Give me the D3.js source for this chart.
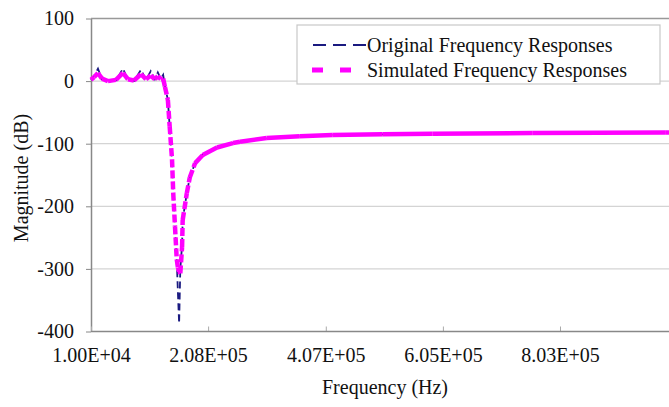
<!DOCTYPE html>
<html>
<head>
<meta charset="utf-8">
<script src="https://cdn.jsdelivr.net/npm/d3@7"></script>
<style>
  body { margin: 0; background: #fff; }
  svg { display: block; font-family: "Liberation Serif", "Times New Roman", serif; }
</style>
</head>
<body>
<svg id="chart" width="669" height="407"></svg>
<script>
// frequencies (Hz) shared by both series
var freqs = [1.00e4, 1.51e4, 2.18e4, 2.86e4, 3.87e4, 5.22e4, 6.40e4, 7.25e4, 8.26e4, 9.44e4,
             1.03e5, 1.11e5, 1.18e5, 1.23e5, 1.28e5, 1.32e5, 1.35e5, 1.40e5, 1.43e5, 1.47e5,
             1.49e5, 1.52e5, 1.55e5, 1.57e5, 1.59e5, 1.61e5, 1.64e5, 1.65e5, 1.72e5, 1.77e5,
             1.86e5, 1.99e5, 2.23e5, 2.50e5, 2.62e5, 3.07e5, 3.63e5, 4.18e5, 5.03e5, 5.87e5,
             7.56e5, 9.82e5, 1.04e6];
// magnitudes (dB)
var original = [2, 8, 20, 3, -1, 1, 20, 2, 0, 18,
                2, 16, 3, 14, 4, 10, -8, -30, -73, -126,
                -179, -233, -286, -339, -387, -300, -262, -222, -179, -154,
                -131, -117, -106, -99, -97, -91, -88, -86, -85, -84,
                -83, -82, -82];
var simulated = [2, 6, 13, 4, 0, 2, 13, 3, 1, 11,
                 3, 9, 3, 8, 3, 4, -9, -30, -72, -125,
                 -178, -232, -285, -298, -305, -307, -265, -222, -179, -154,
                 -131, -118, -106, -99, -97, -91, -88, -86, -85, -84,
                 -83, -82, -82];
var seriesNames = ['Original Frequency Responses', 'Simulated Frequency Responses'];
var xTicks = [1.00e4, 2.08e5, 4.07e5, 6.05e5, 8.03e5];
var xTickLabels = ['1.00E+04', '2.08E+05', '4.07E+05', '6.05E+05', '8.03E+05'];
var yTicks = [100, 0, -100, -200, -300, -400];

var margin = { top: 18.5, left: 91 };
var plotH = 313;

document.addEventListener('DOMContentLoaded', function() {
  drawChart();
});

function drawChart() {
  var svg = d3.select('#chart');

  var xScale = d3.scaleLinear()
                 .domain([1.00e4, 8.03e5])
                 .range([margin.left, margin.left + 469]);
  var yScale = d3.scaleLinear()
                 .domain([-400, 100])
                 .range([margin.top + plotH, margin.top]);
  var xRight = xScale(1.001e6);

  // gridlines
  svg.append('g')
     .selectAll('line')
     .data(yTicks.filter(d => d > -400 && d < 100))
     .enter().append('line')
     .attr('x1', margin.left).attr('x2', xRight)
     .attr('y1', d => yScale(d)).attr('y2', d => yScale(d))
     .style('stroke', '#d4d4d4').style('stroke-width', 1.3);

  // top border
  svg.append('line')
     .attr('x1', margin.left).attr('x2', xRight)
     .attr('y1', yScale(100)).attr('y2', yScale(100))
     .style('stroke', '#999').style('stroke-width', 1.5);

  // y axis (plain hyphen for negatives, like the original)
  var yAxis = svg.append('g')
     .attr('transform', `translate(${margin.left},0)`)
     .call(d3.axisLeft(yScale).tickValues(yTicks).tickFormat(d => String(d))
             .tickSize(5).tickSizeOuter(0).tickPadding(12));
  yAxis.select('.domain').style('stroke', '#888').style('stroke-width', 1.5);
  yAxis.selectAll('.tick line').style('stroke', '#888');
  yAxis.selectAll('text').style('font-size', '20px').style('fill', '#111')
       .style('font-family', '"Liberation Serif", serif');

  // x axis
  var xAxis = svg.append('g')
     .attr('transform', `translate(0,${yScale(-400)})`)
     .call(d3.axisBottom(xScale).tickValues(xTicks)
             .tickFormat((d, i) => xTickLabels[i])
             .tickSize(0).tickPadding(16));
  xAxis.select('.domain').remove();
  xAxis.append('line')
       .attr('x1', margin.left).attr('x2', xRight)
       .style('stroke', '#888').style('stroke-width', 1.5);
  xAxis.selectAll('.tick').append('line')
       .attr('y1', 0).attr('y2', -5)
       .style('stroke', '#aaa');
  xAxis.selectAll('text').style('font-size', '20px').style('fill', '#111')
       .style('font-family', '"Liberation Serif", serif');

  // axis titles
  svg.append('text')
     .attr('x', 385).attr('y', 394)
     .attr('text-anchor', 'middle')
     .style('font-size', '20px').style('fill', '#111')
     .text('Frequency (Hz)');
  svg.append('text')
     .attr('transform', 'translate(28,178) rotate(-90)')
     .attr('text-anchor', 'middle')
     .style('font-size', '20px').style('fill', '#111')
     .text('Magnitude (dB)');

  var origData = freqs.map((f, i) => ({ f: f, v: original[i] }));
  var simData = freqs.map((f, i) => ({ f: f, v: simulated[i] }));

  var line = d3.line()
               .x(d => xScale(d.f))
               .y(d => yScale(d.v));

  // original response: thin navy dashes
  svg.append('path')
     .datum(origData)
     .attr('d', line)
     .style('fill', 'none')
     .style('stroke', '#1a1a80')
     .style('stroke-width', 1.8)
     .style('stroke-dasharray', '7,4');

  // simulated response: thick magenta, dashes restart on each segment
  var segs = d3.pairs(simData);
  svg.append('g')
     .selectAll('path')
     .data(segs)
     .enter().append('path')
     .attr('d', d => line(d))
     .style('fill', 'none')
     .style('stroke', '#ff00ff')
     .style('stroke-width', 4.5)
     .style('stroke-linecap', 'butt')
     .style('stroke-dasharray', d => {
        var dx = Math.abs(xScale(d[1].f) - xScale(d[0].f));
        var dy = Math.abs(yScale(d[1].v) - yScale(d[0].v));
        return dy > 2 * dx ? '8,3' : null;
     });

  // legend
  var lg = svg.append('g').attr('transform', 'translate(297,25)');
  lg.append('rect')
    .attr('width', 363).attr('height', 59)
    .style('fill', '#fff').style('stroke', '#c8c8c8').style('stroke-width', 1.2);
  lg.append('line')
    .attr('x1', 16).attr('x2', 70).attr('y1', 20).attr('y2', 20)
    .style('stroke', '#1a1a80').style('stroke-width', 1.8).style('stroke-dasharray', '13,7');
  lg.append('line')
    .attr('x1', 15).attr('x2', 70).attr('y1', 45).attr('y2', 45)
    .style('stroke', '#ff00ff').style('stroke-width', 5).style('stroke-dasharray', '11,17');
  lg.selectAll('text.lbl')
    .data(seriesNames)
    .enter().append('text')
    .attr('class', 'lbl')
    .attr('x', 70).attr('y', (d, i) => 20 + i * 25)
    .attr('dy', '0.35em')
    .style('font-size', '20px').style('fill', '#111')
    .text(d => d);
}
</script>
</body>
</html>
